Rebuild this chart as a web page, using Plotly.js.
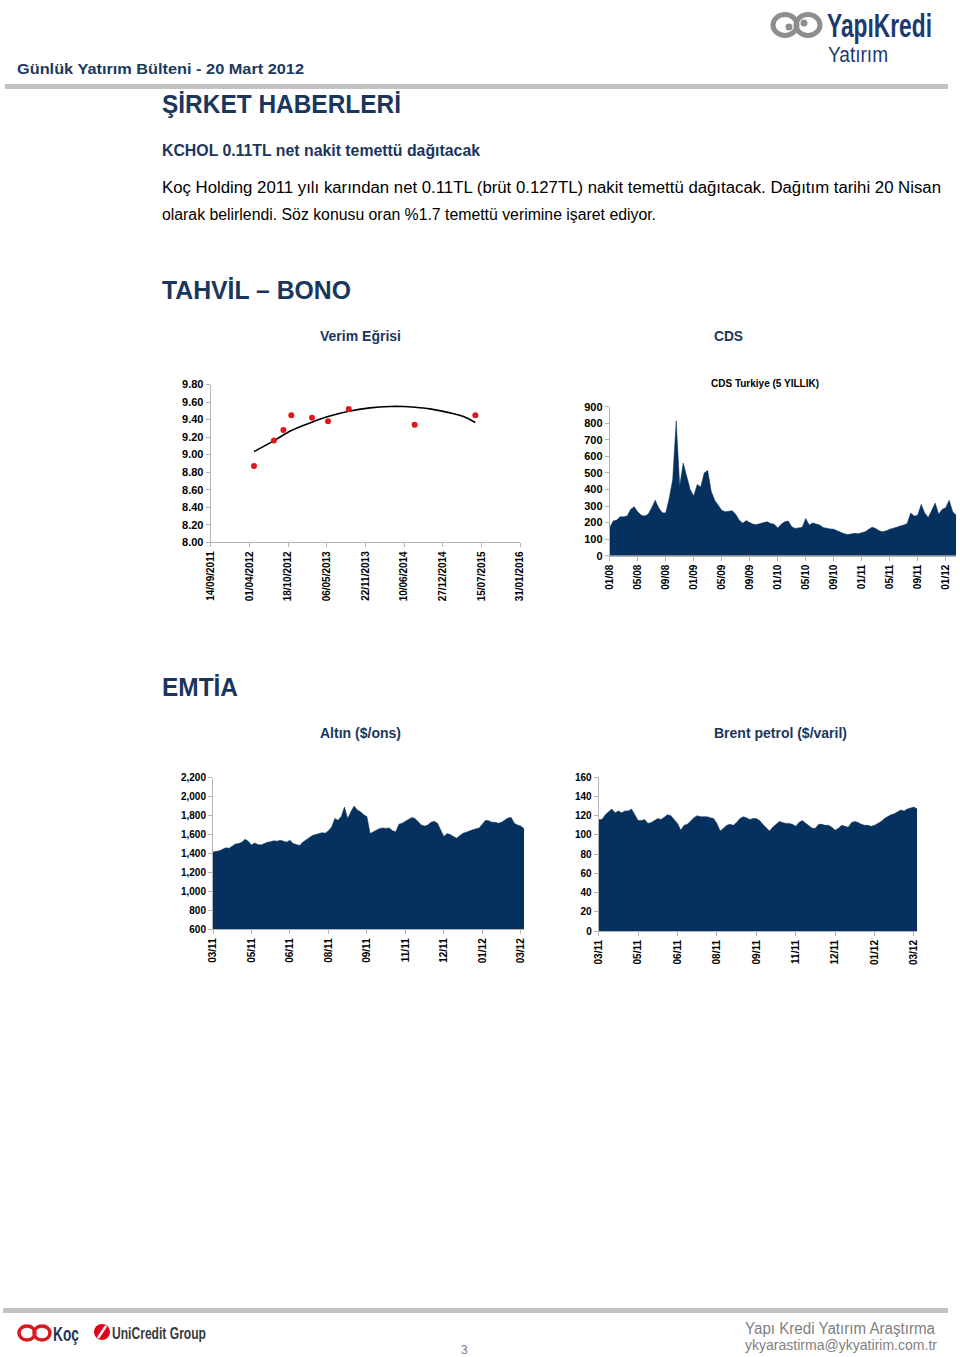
<!DOCTYPE html>
<html>
<head>
<meta charset="utf-8">
<script src="https://cdn.plot.ly/plotly-3.0.1.min.js"></script>
<style>
  body { margin: 0; background: #fff; }
  #page { position: relative; width: 960px; height: 1357px; overflow: hidden; }
  #charts { position: absolute; left: 0; top: 0; width: 960px; height: 1357px; }
  #doc { position: absolute; left: 0; top: 0; pointer-events: none; }
  #doc text { font-family: 'Liberation Sans', Arial, sans-serif; }
</style>
</head>
<body>
<div id="page">
  <div id="charts"></div>
  <svg id="doc" width="960" height="1357" xmlns="http://www.w3.org/2000/svg">
    <!-- header logo -->
    <ellipse cx="785" cy="25" rx="12" ry="10.5" fill="none" stroke="#8e8e8e" stroke-width="5"/>
    <ellipse cx="808" cy="25" rx="12" ry="10.5" fill="none" stroke="#8e8e8e" stroke-width="5"/>
    <circle cx="789" cy="27" r="3.5" fill="#8e8e8e"/>
    <circle cx="804" cy="23" r="3.5" fill="#8e8e8e"/>
    <text transform="translate(827,37) scale(1,1.2)" x="0" y="0" font-size="28" font-weight="bold" fill="#1d3a6e" textLength="105" lengthAdjust="spacingAndGlyphs">YapıKredi</text>
    <text x="828" y="62" font-size="22" fill="#1d3a6e" textLength="60" lengthAdjust="spacingAndGlyphs">Yatırım</text>
    <text x="17" y="74" font-size="15" font-weight="bold" fill="#1b3a5c" textLength="287" lengthAdjust="spacingAndGlyphs">Günlük Yatırım Bülteni  -  20 Mart 2012</text>
    <rect x="5" y="84" width="943" height="5" fill="#c3c3c3"/>

    <text x="162" y="113" font-size="25" font-weight="bold" fill="#1b365d" textLength="239" lengthAdjust="spacingAndGlyphs">ŞİRKET HABERLERİ</text>
    <text x="162" y="156" font-size="16" font-weight="bold" fill="#1b365d" textLength="318" lengthAdjust="spacingAndGlyphs">KCHOL 0.11TL net nakit temettü dağıtacak</text>
    <text x="162" y="193" font-size="16" fill="#000" textLength="779" lengthAdjust="spacingAndGlyphs">Koç Holding 2011 yılı karından net 0.11TL (brüt 0.127TL) nakit temettü dağıtacak. Dağıtım tarihi 20 Nisan</text>
    <text x="162" y="220" font-size="16" fill="#000" textLength="494" lengthAdjust="spacingAndGlyphs">olarak belirlendi. Söz konusu oran %1.7 temettü verimine işaret ediyor.</text>

    <text x="162" y="299" font-size="26" font-weight="bold" fill="#1b365d" textLength="189" lengthAdjust="spacingAndGlyphs">TAHVİL – BONO</text>
    <text x="320" y="341" font-size="15" font-weight="bold" fill="#1b365d" textLength="81" lengthAdjust="spacingAndGlyphs">Verim Eğrisi</text>
    <text x="714" y="341" font-size="15" font-weight="bold" fill="#1b365d" textLength="29" lengthAdjust="spacingAndGlyphs">CDS</text>

    <text x="162" y="696" font-size="26" font-weight="bold" fill="#1b365d" textLength="76" lengthAdjust="spacingAndGlyphs">EMTİA</text>
    <text x="320" y="738" font-size="15" font-weight="bold" fill="#1b365d" textLength="81" lengthAdjust="spacingAndGlyphs">Altın ($/ons)</text>
    <text x="714" y="738" font-size="15" font-weight="bold" fill="#1b365d" textLength="133" lengthAdjust="spacingAndGlyphs">Brent petrol ($/varil)</text>

    <!-- footer -->
    <rect x="3" y="1308" width="945" height="5" fill="#c3c3c3"/>
    <ellipse cx="27" cy="1333" rx="8" ry="7" fill="none" stroke="#d71920" stroke-width="3.5"/>
    <ellipse cx="42" cy="1333" rx="8" ry="7" fill="none" stroke="#d71920" stroke-width="3.5"/>
    <text x="53" y="1341" font-size="20" font-weight="bold" fill="#1b365d" textLength="26" lengthAdjust="spacingAndGlyphs">Koç</text>
    <circle cx="102" cy="1332" r="8" fill="#e2001a"/>
    <line x1="98" y1="1338" x2="106" y2="1326" stroke="#fff" stroke-width="2.5"/>
    <text x="112" y="1339" font-size="16" font-weight="bold" fill="#3a3a3a" textLength="94" lengthAdjust="spacingAndGlyphs">UniCredit Group</text>
    <text x="461" y="1354" font-size="12" fill="#808080">3</text>
    <text x="745" y="1334" font-size="16" fill="#7f7f7f" textLength="190" lengthAdjust="spacingAndGlyphs">Yapı Kredi Yatırım Araştırma</text>
    <text x="745" y="1350" font-size="15" fill="#7f7f7f" textLength="192" lengthAdjust="spacingAndGlyphs">ykyarastirma@ykyatirim.com.tr</text>
  </svg>
</div>
<script>
// Verim egrisi (yield curve)
var yieldDates = ['2012-04-25', '2012-08-06', '2012-09-24', '2012-11-04', '2013-02-19',
  '2013-05-13', '2013-08-28', '2014-08-04', '2015-06-14'];
var yieldValues = [8.87, 9.16, 9.28, 9.45, 9.42, 9.38, 9.52, 9.34, 9.45];
// trend line as drawn in the picture
var trendDates = ['2012-04-25', '2012-08-07', '2012-11-04', '2013-02-19', '2013-05-13',
  '2013-08-28', '2013-12-16', '2014-03-29', '2014-06-06', '2014-08-04', '2014-10-22',
  '2015-02-03', '2015-04-13', '2015-06-14'];
var trendValues = [9.035, 9.16, 9.275, 9.37, 9.434, 9.495, 9.533, 9.549, 9.549, 9.541,
  9.522, 9.476, 9.434, 9.366];
var yieldTickLabels = ['14/09/2011', '01/04/2012', '18/10/2012', '06/05/2013', '22/11/2013',
  '10/06/2014', '27/12/2014', '15/07/2015', '31/01/2016'];

// CDS Turkiye (5 yillik), two readings per month from 01/2008
var cdsValues = [170, 210, 215, 235, 235, 240, 280, 295, 265, 245,
  240, 250, 290, 335, 290, 260, 258, 346, 460, 815,
  420, 560, 480, 400, 360, 430, 415, 500, 515, 390,
  335, 305, 275, 265, 270, 272, 250, 215, 196, 212,
  200, 190, 188, 192, 200, 205, 195, 190, 168, 190,
  205, 210, 175, 165, 168, 172, 225, 185, 198, 190,
  185, 170, 165, 162, 160, 150, 140, 133, 128, 132,
  135, 133, 140, 145, 160, 172, 165, 150, 145, 150,
  160, 165, 172, 180, 185, 195, 258, 240, 245, 310,
  258, 230, 270, 318, 250, 280, 290, 335, 265, 245];
var cdsTickLabels = ['01/08', '05/08', '09/08', '01/09', '05/09', '09/09', '01/10',
  '05/10', '09/10', '01/11', '05/11', '09/11', '01/12'];

// Altin ($/ons)
var goldValues = [1415, 1420, 1430, 1445, 1460, 1455, 1480, 1500, 1505, 1520,
  1550, 1530, 1490, 1510, 1495, 1490, 1505, 1520, 1525, 1535,
  1530, 1540, 1530, 1520, 1540, 1505, 1495, 1485, 1520, 1545,
  1570, 1590, 1600, 1610, 1620, 1615, 1640, 1680, 1770, 1750,
  1790, 1890, 1770, 1840, 1900, 1860, 1840, 1810, 1790, 1610,
  1630, 1650, 1665, 1670, 1665, 1670, 1640, 1630, 1710, 1720,
  1740, 1760, 1780, 1770, 1740, 1700, 1690, 1700, 1730, 1740,
  1720, 1640, 1580, 1610, 1600, 1580, 1560, 1590, 1615, 1625,
  1640, 1650, 1660, 1670, 1710, 1750, 1745, 1730, 1730, 1720,
  1730, 1750, 1775, 1780, 1720, 1700, 1690, 1660];

// Brent petrol ($/varil)
var brentValues = [116, 116, 121, 124, 127, 123, 125, 123, 125, 125,
  127, 121, 115, 115, 116, 112, 113, 115, 117, 116,
  119, 121, 120, 116, 112, 105, 110, 111, 115, 118,
  120, 119, 119, 119, 118, 117, 112, 104, 107, 110,
  111, 110, 113, 117, 119, 118, 116, 117, 117, 115,
  111, 108, 104, 108, 111, 114, 113, 112, 112, 111,
  109, 113, 115, 112, 109, 107, 107, 111, 111, 110,
  110, 108, 105, 107, 110, 109, 108, 113, 114, 113,
  111, 110, 110, 109, 110, 112, 114, 117, 119, 121,
  122, 124, 126, 125, 127, 128, 129, 127];
var commodityTickLabels = ['03/11', '05/11', '06/11', '08/11', '09/11', '11/11', '12/11',
  '01/12', '03/12'];

var navy = '#06315f';
var axisGrey = '#b4b4b4';

function px(x) { return x / 960; }
function py(y) { return 1 - y / 1357; }
function toIso(s) { var p = s.split('/'); return p[2] + '-' + p[1] + '-' + p[0]; }
function idx(arr) { return arr.map(function(v, i) { return i; }); }
function everyNth(labels, n) { return labels.map(function(l, i) { return i * n; }); }

function axisStyle(extra) {
  var a = {
    showline: true,
    linecolor: axisGrey,
    linewidth: 1,
    ticks: 'outside',
    ticklen: 4,
    tickcolor: axisGrey,
    showgrid: false,
    zeroline: false,
    fixedrange: true,
    tickfont: { family: 'Liberation Sans, Arial, sans-serif', size: 10, color: '#000', weight: 'bold' }
  };
  for (var k in extra) a[k] = extra[k];
  return a;
}

var data = [
  {
    x: trendDates, y: trendValues, xaxis: 'x', yaxis: 'y',
    mode: 'lines', line: { color: '#000', width: 1.6, shape: 'spline' },
    hoverinfo: 'skip'
  },
  {
    x: yieldDates, y: yieldValues, xaxis: 'x', yaxis: 'y',
    mode: 'markers', marker: { color: '#e0161e', size: 6 }
  },
  {
    x: idx(cdsValues), y: cdsValues, xaxis: 'x2', yaxis: 'y2',
    mode: 'lines', fill: 'tozeroy', fillcolor: navy, line: { color: navy, width: 0.5 }
  },
  {
    x: idx(goldValues), y: goldValues, xaxis: 'x3', yaxis: 'y3',
    mode: 'lines', fill: 'tozeroy', fillcolor: navy, line: { color: navy, width: 0.5 }
  },
  {
    x: idx(brentValues), y: brentValues, xaxis: 'x4', yaxis: 'y4',
    mode: 'lines', fill: 'tozeroy', fillcolor: navy, line: { color: navy, width: 0.5 }
  }
];

var layout = {
  width: 960,
  height: 1357,
  margin: { l: 0, r: 0, t: 0, b: 0, pad: 0 },
  paper_bgcolor: 'rgba(0,0,0,0)',
  plot_bgcolor: 'rgba(0,0,0,0)',
  showlegend: false,
  font: { family: 'Liberation Sans, Arial, sans-serif', color: '#000' },

  xaxis: axisStyle({
    domain: [px(210.7), px(520)], anchor: 'y', type: 'date',
    range: [toIso(yieldTickLabels[0]), toIso(yieldTickLabels[yieldTickLabels.length - 1])],
    tickvals: yieldTickLabels.map(toIso), ticktext: yieldTickLabels, tickangle: -90
  }),
  yaxis: axisStyle({
    domain: [py(542.3), py(384.5)], anchor: 'x',
    range: [8, 9.8], tick0: 8, dtick: 0.2, tickformat: '.2f',
    tickfont: { family: 'Liberation Sans, Arial, sans-serif', size: 11, color: '#000', weight: 'bold' }
  }),

  xaxis2: axisStyle({
    domain: [px(609.7), px(956.2)], anchor: 'y2', range: [0, 99],
    tickvals: everyNth(cdsTickLabels, 8), ticktext: cdsTickLabels, tickangle: -90
  }),
  yaxis2: axisStyle({
    domain: [py(555.7), py(406.7)], anchor: 'x2', range: [0, 900], dtick: 100,
    tickfont: { family: 'Liberation Sans, Arial, sans-serif', size: 11, color: '#000', weight: 'bold' }
  }),

  xaxis3: axisStyle({
    domain: [px(213), px(524)], anchor: 'y3', range: [0, 97],
    tickvals: everyNth(commodityTickLabels, 12), ticktext: commodityTickLabels, tickangle: -90
  }),
  yaxis3: axisStyle({
    domain: [py(929.3), py(777.7)], anchor: 'x3', range: [600, 2200], dtick: 200,
    tickformat: ',d'
  }),

  xaxis4: axisStyle({
    domain: [px(598.7), px(917.2)], anchor: 'y4', range: [0, 97],
    tickvals: everyNth(commodityTickLabels, 12), ticktext: commodityTickLabels, tickangle: -90
  }),
  yaxis4: axisStyle({
    domain: [py(931), py(777.3)], anchor: 'x4', range: [0, 160], dtick: 20
  }),

  annotations: [
    {
      text: 'CDS Turkiye (5 YILLIK)', xref: 'paper', yref: 'paper',
      x: px(765), y: py(383), xanchor: 'center', yanchor: 'middle', showarrow: false,
      font: { size: 10, color: '#000', weight: 'bold' }
    }
  ]
};

Plotly.newPlot('charts', data, layout, { displayModeBar: false, staticPlot: true });
</script>
</body>
</html>
